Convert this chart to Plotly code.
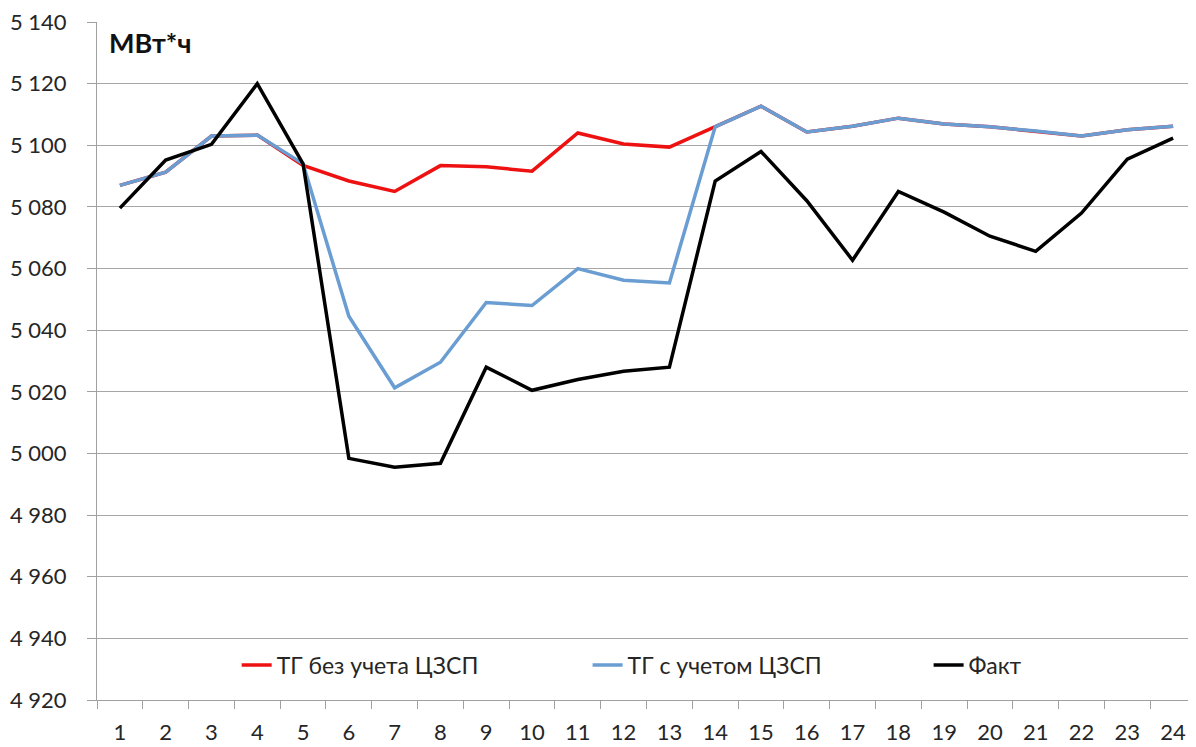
import plotly.graph_objects as go

hours = [str(h) for h in range(1, 25)]

tg_without = [5087, 5091.3, 5103, 5103.3, 5093.5, 5088.4, 5085, 5093.4, 5093, 5091.6, 5104, 5100.4, 5099.4, 5106,
              5112.7, 5104.3, 5106.2, 5108.8, 5106.9, 5106, 5104.6, 5103, 5105, 5106.2]
tg_with = [5087, 5091.3, 5103, 5103.3, 5094, 5044.5, 5021.3, 5029.6, 5049, 5048, 5060, 5056.2, 5055.3, 5106,
           5112.7, 5104.3, 5106.2, 5108.8, 5106.9, 5106, 5104.6, 5103, 5105, 5106.2]
fact = [5079.6, 5095.2, 5100.3, 5120, 5094, 4998.4, 4995.5, 4996.8, 5028, 5020.5, 5024, 5026.7, 5028, 5088.4,
        5098, 5082, 5062.7, 5085, 5078.3, 5070.5, 5065.6, 5078, 5095.5, 5102.3]

names = ["ТГ без учета ЦЗСП", "ТГ с учетом ЦЗСП", "Факт"]
colors = ["#ee1111", "#6a9dd2", "#000000"]
legend_ids = ["legend", "legend2", "legend3"]
legend_x = [0.1271, 0.4464, 0.7567]

FONT = "Lato"
TXT = "#262626"

fig = go.Figure()
for name, vals, col, lid in zip(names, [tg_without, tg_with, fact], colors, legend_ids):
    fig.add_trace(go.Scatter(x=hours, y=vals, mode="lines", name=name, legend=lid,
                             line=dict(color=col, width=3.5)))

legend_common = dict(orientation="h", xanchor="left", y=0.0516, yanchor="middle",
                     font=dict(family=FONT, size=23, color=TXT), bgcolor="rgba(0,0,0,0)")
legends = {lid: dict(x=lx, **legend_common) for lid, lx in zip(legend_ids, legend_x)}

fig.update_layout(
    width=1188, height=739,
    margin=dict(l=89, r=0, t=14, b=47),
    paper_bgcolor="white", plot_bgcolor="white",
    separators=". ",
    font=dict(family=FONT, size=22, color=TXT),
    showlegend=True,
    annotations=[dict(text="<b>МВт*ч</b>", xref="paper", yref="paper", x=0.009, y=0.9705,
                      xanchor="left", yanchor="middle", showarrow=False,
                      font=dict(family=FONT, size=27, color="#111111"))],
    **legends,
)
fig.update_xaxes(type="category", range=[-0.5, 23.5], showgrid=False, showline=True,
                 linecolor="#a0a0a0", linewidth=1,
                 ticks="outside", tickson="boundaries", ticklen=8, tickcolor="#a0a0a0",
                 ticklabelstandoff=13,
                 tickfont=dict(family=FONT, size=22, color=TXT))
fig.update_yaxes(range=[4920, 5140], dtick=20, tick0=4920, tickformat=",d", showgrid=True,
                 gridcolor="#a6a6a6", gridwidth=1, showline=True, linecolor="#a0a0a0", linewidth=1,
                 ticks="outside", ticklen=9, tickcolor="#a0a0a0", zeroline=False,
                 ticklabelstandoff=16, ticklabeloverflow="allow",
                 tickfont=dict(family=FONT, size=22, color=TXT))

fig.write_html("out.html")
